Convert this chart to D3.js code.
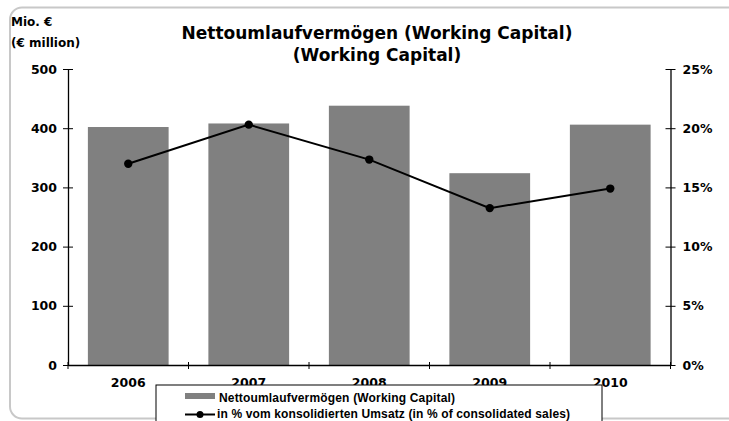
<!DOCTYPE html>
<html>
<head>
<meta charset="utf-8">
<script src="https://cdn.jsdelivr.net/npm/d3@7/dist/d3.min.js"></script>
<style>
  html, body { margin: 0; padding: 0; background: #fff; }
  svg { display: block; }
</style>
</head>
<body>
<script>
// Working capital by year (€ million) and as % of consolidated sales
const years = ["2006", "2007", "2008", "2009", "2010"];
const workingCapital = [402, 408, 438, 324, 406];
const pctOfSales = [17.0, 20.3, 17.35, 13.25, 14.9];
const leftTicks = [0, 100, 200, 300, 400, 500];
const rightTicks = [0, 5, 10, 15, 20, 25];

const W = 729, H = 421;
const svg = d3.select("body").append("svg").attr("width", W).attr("height", H);

// outer frame (rounded, running off the right and bottom edges)
svg.append("rect")
  .attr("x", 10).attr("y", 7.5)
  .attr("width", 760).attr("height", 411)
  .attr("rx", 12).attr("ry", 12)
  .attr("fill", "none").attr("stroke", "#c8c8c8").attr("stroke-width", 2);

const plot = { left: 68, right: 670.5, top: 69, bottom: 365 };

const x = d3.scaleBand().domain(years).range([plot.left, plot.right]).paddingInner(0.33).paddingOuter(0.165);
const xEdge = d3.scaleBand().domain(years).range([plot.left, plot.right]);
const yL = d3.scaleLinear().domain([0, 500]).range([plot.bottom, plot.top]);
const yR = d3.scaleLinear().domain([0, 25]).range([plot.bottom, plot.top]);

const tickFont = "'DejaVu Sans', Verdana, sans-serif";
const legendFont = "'Liberation Sans', Arial, sans-serif";

// bars
svg.append("g").selectAll("rect").data(years).join("rect")
  .attr("x", d => x(d))
  .attr("y", (d, i) => yL(workingCapital[i]))
  .attr("width", x.bandwidth())
  .attr("height", (d, i) => plot.bottom - yL(workingCapital[i]))
  .attr("fill", "#808080");

// left axis
const gL = svg.append("g").attr("transform", `translate(${plot.left},0)`)
  .call(d3.axisLeft(yL).tickValues(leftTicks).tickSizeInner(5).tickSizeOuter(0).tickPadding(6));
gL.selectAll(".tick line").attr("x2", 5).attr("x1", -5);

// right axis
const gR = svg.append("g").attr("transform", `translate(${plot.right},0)`)
  .call(d3.axisRight(yR).tickValues(rightTicks).tickFormat(d => d + "%").tickSizeInner(5).tickSizeOuter(0).tickPadding(7));
gR.selectAll(".tick line").attr("x1", -5).attr("x2", 5);

// bottom axis: ticks at category boundaries
const gB = svg.append("g").attr("transform", `translate(0,${plot.bottom})`)
  .call(d3.axisBottom(x).tickSize(0).tickPadding(13));
gB.selectAll(".tick line").remove();
const edges = years.map(d => xEdge(d)).concat([plot.right]);
gB.selectAll(".edge").data(edges).join("line")
  .attr("class", "edge")
  .attr("x1", d => d).attr("x2", d => d)
  .attr("y1", -3).attr("y2", 4)
  .attr("stroke", "#000");

[gL, gR, gB].forEach(g => {
  g.select(".domain").attr("stroke", "#000").attr("stroke-width", 1.3);
  g.selectAll(".tick line").attr("stroke", "#000");
  g.selectAll("text").attr("font-family", tickFont).attr("font-weight", "bold")
    .attr("font-size", "12.5px").attr("fill", "#000");
});

// percentage line
const cx = d => x(d) + x.bandwidth() / 2;
const line = d3.line().x((d, i) => cx(years[i])).y(d => yR(d));
svg.append("path").datum(pctOfSales)
  .attr("d", line).attr("fill", "none").attr("stroke", "#000").attr("stroke-width", 2);
svg.append("g").selectAll("circle").data(pctOfSales).join("circle")
  .attr("cx", (d, i) => cx(years[i])).attr("cy", d => yR(d)).attr("r", 4.2).attr("fill", "#000");

// titles
svg.append("text").attr("x", 377).attr("y", 39).attr("text-anchor", "middle")
  .attr("font-family", tickFont).attr("font-weight", "bold").attr("font-size", "17px")
  .text("Nettoumlaufvermögen (Working Capital)");
svg.append("text").attr("x", 377).attr("y", 61).attr("text-anchor", "middle")
  .attr("font-family", tickFont).attr("font-weight", "bold").attr("font-size", "17px")
  .text("(Working Capital)");
svg.append("text").attr("x", 11).attr("y", 26)
  .attr("font-family", tickFont).attr("font-weight", "bold").attr("font-size", "12px")
  .text("Mio. €");
svg.append("text").attr("x", 11).attr("y", 47)
  .attr("font-family", tickFont).attr("font-weight", "bold").attr("font-size", "12px")
  .text("(€ million)");

// legend
const lg = svg.append("g");
lg.append("rect").attr("x", 156).attr("y", 385).attr("width", 446).attr("height", 60)
  .attr("fill", "#fff").attr("stroke", "#000").attr("stroke-width", 1);
lg.append("rect").attr("x", 185).attr("y", 393).attr("width", 30).attr("height", 6).attr("fill", "#808080");
lg.append("text").attr("x", 219).attr("y", 402)
  .attr("font-family", legendFont).attr("font-weight", "bold").attr("font-size", "12px")
  .attr("textLength", 236).attr("lengthAdjust", "spacing")
  .text("Nettoumlaufvermögen (Working Capital)");
lg.append("line").attr("x1", 185).attr("x2", 215).attr("y1", 414.5).attr("y2", 414.5)
  .attr("stroke", "#000").attr("stroke-width", 2);
lg.append("circle").attr("cx", 200).attr("cy", 414.5).attr("r", 3.5).attr("fill", "#000");
lg.append("text").attr("x", 217).attr("y", 417.5)
  .attr("font-family", legendFont).attr("font-weight", "bold").attr("font-size", "12px")
  .attr("textLength", 353).attr("lengthAdjust", "spacing")
  .text("in % vom konsolidierten Umsatz (in % of consolidated sales)");
</script>
</body>
</html>
